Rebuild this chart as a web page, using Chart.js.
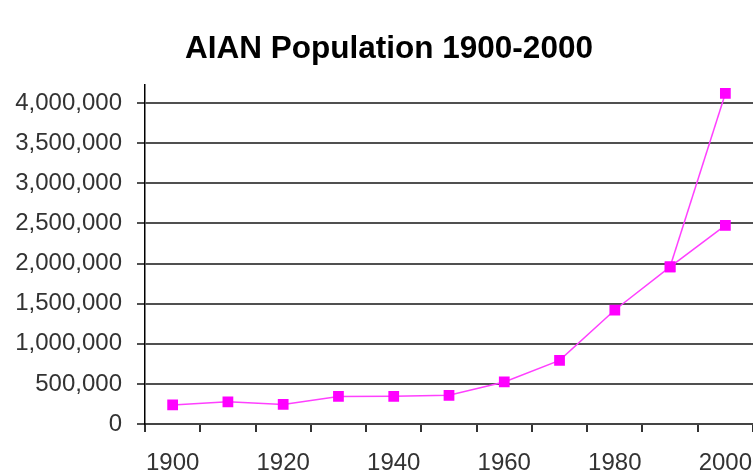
<!DOCTYPE html>
<html>
<head>
<meta charset="utf-8">
<script src="https://cdn.jsdelivr.net/npm/chart.js@4"></script>
<style>
  body { margin: 0; background: #fff; }
  #wrap { width: 753px; height: 472px; }
</style>
</head>
<body>
<div id="wrap"><canvas id="lineChart" width="753" height="472"></canvas></div>
<script>
const years = ['1900', '1910', '1920', '1930', '1940', '1950', '1960', '1970', '1980', '1990', '2000'];
// AIAN alone, every census year
const aianAlone = [237196, 276927, 244437, 343352, 345252, 357499, 523591, 792730, 1420400, 1959234, 2475956];
// alone or in combination, only from 1990 on
const aianCombo = [null, null, null, null, null, null, null, null, null, 1959234, 4119301];
const yTicks = [0, 500000, 1000000, 1500000, 2000000, 2500000, 3000000, 3500000, 4000000];
const chartTitle = 'AIAN Population 1900-2000';

const titlePlugin = {
  id: 'sideTitle',
  afterDraw(chart) {
    const ctx = chart.ctx;
    ctx.save();
    ctx.font = 'bold 31.5px "Liberation Sans", Arial, sans-serif';
    ctx.fillStyle = '#000';
    ctx.textAlign = 'center';
    ctx.textBaseline = 'alphabetic';
    ctx.fillText(chartTitle, 389, 58);
    ctx.restore();
  }
};

const magenta = '#ff00ff';
const lineColor = '#ff40ff';
const labelFont = { family: '"Liberation Sans", Arial, sans-serif', size: 24 };

var ctx = document.getElementById('lineChart');
new Chart(ctx, {
  type: 'line',
  data: {
    labels: years,
    datasets: [
      {
        label: 'AIAN alone',
        data: aianAlone,
        borderColor: lineColor,
        borderWidth: 1.5,
        pointStyle: 'rect',
        pointRadius: 7.6,
        pointBorderWidth: 0,
        pointBackgroundColor: magenta,
        tension: 0
      },
      {
        label: 'AIAN alone or in combination',
        data: aianCombo,
        borderColor: lineColor,
        borderWidth: 1.5,
        pointStyle: 'rect',
        pointRadius: 7.6,
        pointBorderWidth: 0,
        pointBackgroundColor: magenta,
        tension: 0
      }
    ]
  },
  options: {
    responsive: false,
    animation: false,
    layout: { autoPadding: false, padding: { top: 85, left: 0, right: 0, bottom: 0 } },
    plugins: {
      legend: { display: false },
      title: { display: false },
      tooltip: { enabled: false }
    },
    scales: {
      x: {
        offset: true,
        afterFit: (scale) => {
          scale.height = 48;
          scale.paddingLeft = 0;
          scale.paddingRight = 0;
        },
        grid: {
          offset: true,
          drawOnChartArea: false,
          drawTicks: true,
          tickLength: 8,
          color: '#333',
          lineWidth: 2
        },
        border: { color: '#444', width: 2 },
        ticks: {
          autoSkip: false,
          maxRotation: 0,
          padding: 17,
          color: '#333',
          font: labelFont,
          callback: function (val, i) { return i % 2 === 0 ? years[i] : ''; }
        }
      },
      y: {
        min: 0,
        max: 4225000,
        afterFit: (scale) => { scale.width = 145; },
        afterBuildTicks: (scale) => { scale.ticks = yTicks.map(v => ({ value: v })); },
        grid: {
          color: '#505050',
          lineWidth: 2,
          tickLength: 8
        },
        border: { color: '#000', width: 1.5 },
        ticks: {
          padding: 15,
          color: '#333',
          font: labelFont,
          callback: (v) => v.toLocaleString('en-US')
        }
      }
    }
  },
  plugins: [titlePlugin]
});
</script>
</body>
</html>
